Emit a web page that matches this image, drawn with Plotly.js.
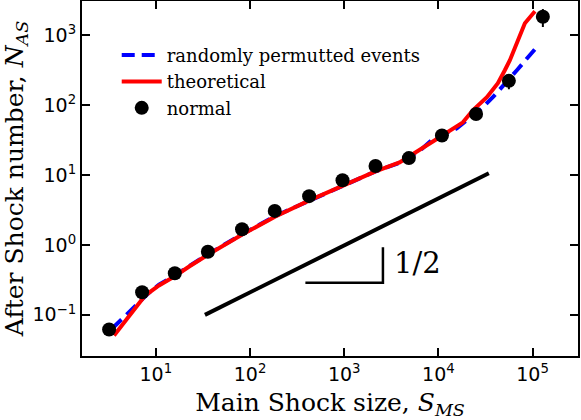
<!DOCTYPE html>
<html>
<head>
<meta charset="utf-8">
<script src="https://cdn.plot.ly/plotly-3.0.1.min.js"></script>
<style>
  html, body { margin: 0; padding: 0; background: #fff; }
  #chart { width: 581px; height: 420px; }
</style>
</head>
<body>
<div id="chart"></div>
<script>
// "normal" catalogue, binned points
const normalX = [3.19, 7.15, 15.9, 35.7, 82.2, 183, 424, 959, 2150, 4860, 10900, 25100, 56000, 128500];
const normalY = [0.0616, 0.211, 0.394, 0.80, 1.68, 3.07, 4.99, 8.45, 13.5, 17.5, 36.8, 74.8, 223, 1845];
const normalErr = [0, 0, 0, 0, 0, 0, 0, 0, 0, 0, 0, 0, 54, 530];

// theoretical curve
const theoX = [3.6, 4.95, 7.69, 10.8, 15.7, 22.6, 36.0, 82.7, 186, 427, 959, 2150, 3870, 6320, 10300, 18200, 23200, 32700, 42800, 50700, 57400, 82800, 106000];
const theoY = [0.0505, 0.0885, 0.189, 0.263, 0.354, 0.492, 0.731, 1.41, 2.56, 4.34, 7.11, 11.3, 15.2, 22.6, 34.7, 56.9, 84.5, 130, 206, 316, 440, 1490, 2210];

// randomly permutted events
const permX = [3.44, 5.2, 8.49, 10.8, 15.7, 22.6, 36.0, 82.7, 186, 427, 959, 2150, 3870, 6320, 8690, 15700, 28900, 37800, 68100, 108000];
const permY = [0.0637, 0.111, 0.208, 0.27, 0.36, 0.50, 0.74, 1.43, 2.6, 4.3, 7.1, 11.3, 15.0, 22.3, 32.4, 46.7, 90.4, 130, 316, 653];

// guide line and slope triangle
const guideX = [33.2, 34300];
const guideY = [0.1, 10.6];
const triX = [387, 2576, 2576];
const triY = [0.287, 0.287, 0.927];

const xTickVals = [10, 100, 1000, 10000, 100000];
const xTickText = ["10<sup>1</sup>", "10<sup>2</sup>", "10<sup>3</sup>", "10<sup>4</sup>", "10<sup>5</sup>"];
const yTickVals = [0.1, 1, 10, 100, 1000];
const yTickText = ["10<sup>\u22121</sup>", "10<sup>0</sup>", "10<sup>1</sup>", "10<sup>2</sup>", "10<sup>3</sup>"];

const SERIF = "DejaVu Serif";
const SANS = "DejaVu Sans";

const traces = [
  {
    x: permX, y: permY, type: "scatter", mode: "lines",
    name: "randomly permutted events",
    line: { color: "#0000ff", width: 4, dash: "13px,7px" }
  },
  {
    x: theoX, y: theoY, type: "scatter", mode: "lines",
    name: "theoretical",
    line: { color: "#ff0000", width: 4 }
  },
  {
    x: guideX, y: guideY, type: "scatter", mode: "lines",
    showlegend: false,
    line: { color: "#000000", width: 4 }
  },
  {
    x: triX, y: triY, type: "scatter", mode: "lines",
    showlegend: false,
    line: { color: "#000000", width: 2.5 }
  },
  {
    x: normalX, y: normalY, type: "scatter", mode: "markers",
    name: "normal",
    marker: { color: "#000000", size: 14 },
    error_y: { type: "data", array: normalErr, arrayminus: normalErr, color: "#000000", thickness: 2, width: 0 }
  }
];

const axisCommon = {
  type: "log",
  showgrid: false,
  zeroline: false,
  showline: true,
  linecolor: "#000",
  linewidth: 2,
  mirror: "ticks",
  ticks: "inside",
  ticklen: 8,
  tickwidth: 2,
  tickcolor: "#000",
  tickmode: "array",
  tickfont: { family: SANS, size: 19, color: "#000" }
};

const layout = {
  width: 581,
  height: 420,
  margin: { l: 82, r: 3, t: 1, b: 64 },
  paper_bgcolor: "#fff",
  plot_bgcolor: "#fff",
  font: { family: SERIF, size: 18, color: "#000" },
  showlegend: true,
  legend: {
    x: 0.07, y: 0.899, xanchor: "left", yanchor: "top",
    itemwidth: 40,
    bgcolor: "rgba(0,0,0,0)",
    font: { family: SERIF, size: 18, color: "#000" }
  },
  xaxis: Object.assign({}, axisCommon, {
    range: [0.216, 5.482],
    tickvals: xTickVals,
    ticktext: xTickText,
    title: { text: "Main Shock size, <i>S</i><sub><i>MS</i></sub>", font: { family: SERIF, size: 25, color: "#000" }, standoff: 12 }
  }),
  yaxis: Object.assign({}, axisCommon, {
    range: [-1.589, 3.491],
    tickvals: yTickVals,
    ticktext: yTickText,
    title: { text: "After Shock number, <i>N</i><sub><i>AS</i></sub>", font: { family: SERIF, size: 25, color: "#000" }, standoff: 10 }
  }),
  annotations: [
    {
      x: Math.log10(6025), y: Math.log10(0.543), xref: "x", yref: "y",
      text: "1/2", showarrow: false, xanchor: "center", yanchor: "middle",
      font: { family: SERIF, size: 29, color: "#000" }
    }
  ]
};

Plotly.newPlot("chart", traces, layout, { displayModeBar: false, staticPlot: true });
</script>
</body>
</html>
